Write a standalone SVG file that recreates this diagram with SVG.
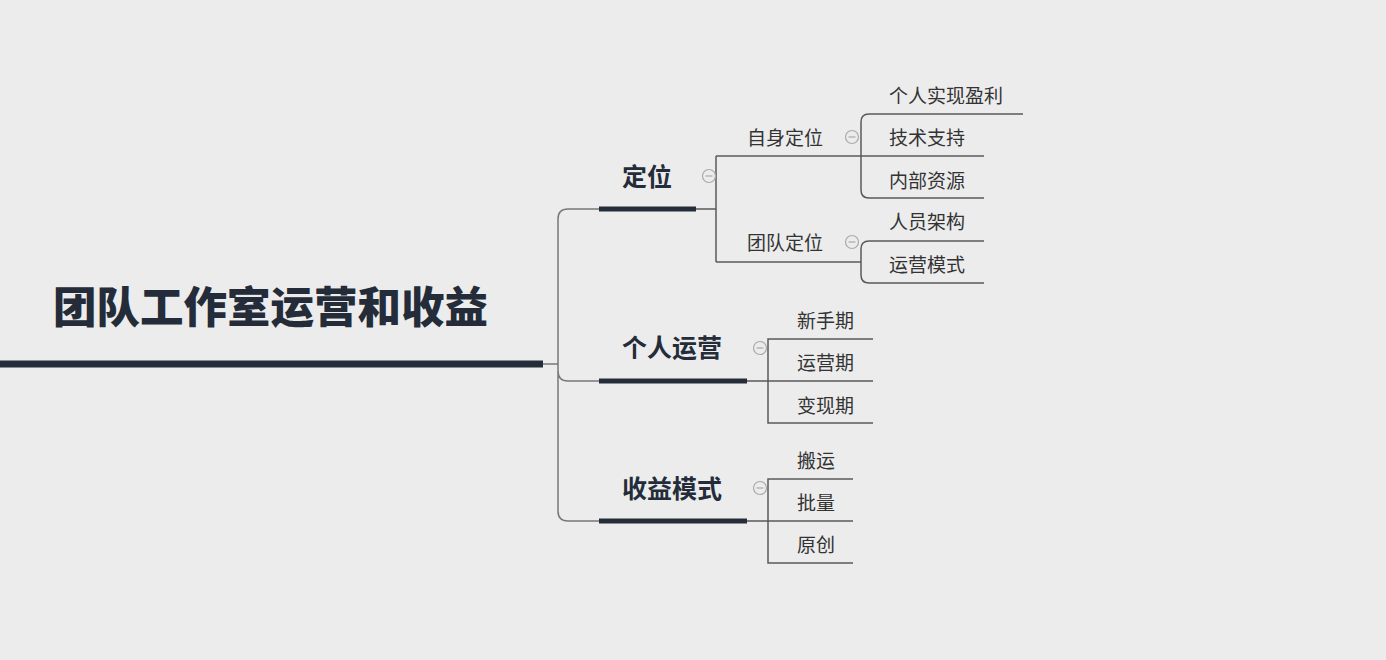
<svg xmlns="http://www.w3.org/2000/svg" width="1386" height="660" viewBox="0 0 1386 660">
<defs>
<style>
.bg{fill:#ececec}
.root{font-family:"Noto Sans CJK SC","Noto Sans",sans-serif;font-weight:900;font-size:43.5px;fill:#252c39}
.main{font-family:"Noto Sans CJK SC","Noto Sans",sans-serif;font-weight:bold;font-size:25px;fill:#252c39}
.sub{font-family:"Noto Sans CJK SC","Noto Sans",sans-serif;font-size:19px;fill:#333}
.bar{stroke:#262d3a;fill:none}
.ln{stroke:#5a5a5a;stroke-width:1.5;fill:none}
.tr{stroke:#777;stroke-width:1.5;fill:none}
.col{fill:none;stroke:#aaa;stroke-width:1.2}
.colm{stroke:#aaa;stroke-width:1.2}
</style>
</defs>
<rect class="bg" width="1386" height="660"/>
<g id="connectors">
<path class="tr" d="M543 364 H558 M599 209 H568 Q558 209 558 219 V511 Q558 521 568 521 H599 M558 371 Q558 381 568 381 H599"/>
<path class="ln" d="M696 209 H716 M716 156 V262 M716 156 H861 M716 262 H861"/>
<path class="ln" d="M1023 114 H869 Q861 114 861 122 V190 Q861 198 869 198 H984 M861 156 H984"/>
<path class="ln" d="M984 241 H869 Q861 241 861 249 V275 Q861 283 869 283 H984"/>
<path class="ln" d="M747 381 H873 M873 339 H768 V423 H873"/>
<path class="ln" d="M747 521 H853 M853 479 H768 V563 H853"/>
</g>
<g id="root">
<line class="bar" x1="0" y1="364" x2="543" y2="364" stroke-width="7"/>
<text class="root" x="53" y="323">团队工作室运营和收益</text>
</g>
<g id="n-dingwei">
<line class="bar" x1="599" y1="209" x2="696" y2="209" stroke-width="5"/>
<text class="main" x="622" y="186">定位</text>
<circle class="col" cx="709" cy="176" r="6.5"/><line class="colm" x1="705.5" y1="176" x2="712.5" y2="176"/>
</g>
<g id="n-zishen">
<text class="sub" x="747" y="145">自身定位</text>
<circle class="col" cx="852" cy="137" r="6.5"/><line class="colm" x1="848.5" y1="137" x2="855.5" y2="137"/>
</g>
<g id="n-tuandui">
<text class="sub" x="747" y="250">团队定位</text>
<circle class="col" cx="852" cy="242" r="6.5"/><line class="colm" x1="848.5" y1="242" x2="855.5" y2="242"/>
</g>
<g id="n-c1"><text class="sub" x="889" y="103">个人实现盈利</text></g>
<g id="n-c2"><text class="sub" x="889" y="145">技术支持</text></g>
<g id="n-c3"><text class="sub" x="889" y="188">内部资源</text></g>
<g id="n-c4"><text class="sub" x="889" y="229">人员架构</text></g>
<g id="n-c5"><text class="sub" x="889" y="272">运营模式</text></g>
<g id="n-geren">
<line class="bar" x1="599" y1="381" x2="747" y2="381" stroke-width="5"/>
<text class="main" x="622" y="357">个人运营</text>
<circle class="col" cx="760" cy="348" r="6.5"/><line class="colm" x1="756.5" y1="348" x2="763.5" y2="348"/>
</g>
<g id="n-g1"><text class="sub" x="797" y="328">新手期</text></g>
<g id="n-g2"><text class="sub" x="797" y="370">运营期</text></g>
<g id="n-g3"><text class="sub" x="797" y="413">变现期</text></g>
<g id="n-shouyi">
<line class="bar" x1="599" y1="521" x2="747" y2="521" stroke-width="5"/>
<text class="main" x="622" y="498">收益模式</text>
<circle class="col" cx="760" cy="488" r="6.5"/><line class="colm" x1="756.5" y1="488" x2="763.5" y2="488"/>
</g>
<g id="n-s1"><text class="sub" x="797" y="468">搬运</text></g>
<g id="n-s2"><text class="sub" x="797" y="510">批量</text></g>
<g id="n-s3"><text class="sub" x="797" y="552">原创</text></g>
</svg>
